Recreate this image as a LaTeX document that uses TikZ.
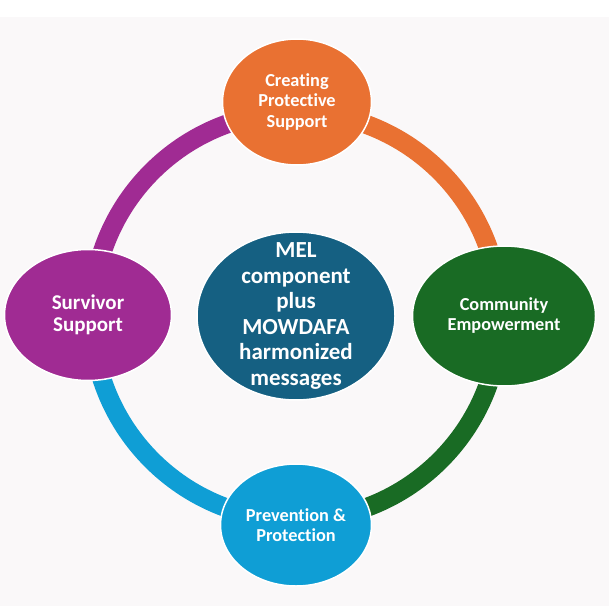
\documentclass[tikz,border=0pt]{standalone}
\usepackage{fontspec}
\setmainfont{Carlito}[Ligatures=NoCommon]
\usetikzlibrary{shapes.geometric}

\definecolor{bgGray}{RGB}{250,248,249}
\definecolor{cOrange}{HTML}{E97132}
\definecolor{cPurple}{HTML}{A02B93}
\definecolor{cGreen}{HTML}{196B24}
\definecolor{cBlue}{HTML}{0F9ED5}
\definecolor{cTeal}{HTML}{156082}

\tikzset{
  blob/.style={ellipse, draw=white, line width=1.5pt, inner sep=0pt},
  ring/.style={line width=19pt},
  lbl/.style={text=white, align=center, font=\bfseries\fontsize{18.3}{20}\selectfont}
}

\begin{document}
\begin{tikzpicture}[x=1pt, y=1pt]

% page and background
\useasboundingbox (0,0) rectangle (609,606);
\fill[white] (0,0) rectangle (609,606);
\fill[bgGray] (0,0) rectangle (609,589);

% centre of the ring
\coordinate (O) at (296,290);

% the ring, one quarter per colour
\draw[ring, cPurple] (O) ++(90:204) arc (90:180:204);
\draw[ring, cOrange] (O) ++(0:204) arc (0:90:204);
\draw[ring, cGreen] (O) ++(270:204) arc (270:360:204);
\draw[ring, cBlue] (O) ++(180:204) arc (180:270:204);

% ellipses
\node[blob, fill=cOrange, minimum width=149pt, minimum height=126pt] (create) at (297,504) {};
\node[blob, fill=cPurple, minimum width=167pt, minimum height=131pt] (survivor) at (88,291) {};
\node[blob, fill=cGreen, minimum width=183pt, minimum height=140pt] (community) at (504,290) {};
\node[blob, fill=cBlue, minimum width=151pt, minimum height=122pt] (prevent) at (296,81) {};
\node[blob, fill=cTeal, minimum width=198pt, minimum height=168pt] (mel) at (O) {};

% labels
\node[lbl, font=\bfseries\fontsize{18.3}{20.5}\selectfont] (createtxt) at (create) {Creating\\Protective\\Support};
\node[lbl, font=\bfseries\fontsize{21}{22.5}\selectfont] (survivortxt) at (survivor) {Survivor\\Support};
\node[lbl] (communitytxt) at (community) {Community\\Empowerment};
\node[lbl] (preventtxt) at (prevent) {Prevention \&\\Protection};
\node[lbl, font=\bfseries\fontsize{23}{25.5}\selectfont] (meltxt) at (mel) {MEL\\component\\plus\\MOWDAFA\\harmonized\\messages};

\end{tikzpicture}
\end{document}
